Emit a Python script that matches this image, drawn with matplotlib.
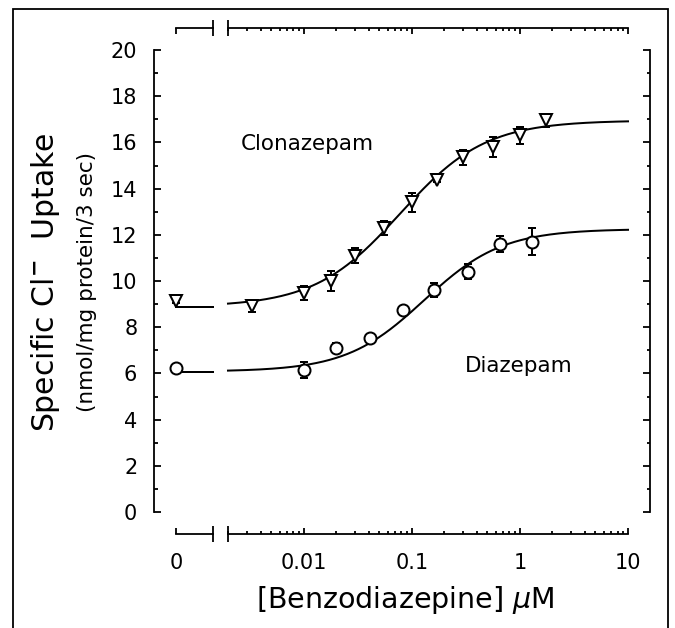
import numpy as np
import matplotlib
matplotlib.use('Agg')
import matplotlib.pyplot as plt
from matplotlib.patches import Rectangle
from matplotlib.ticker import LogLocator, NullFormatter, MultipleLocator, FixedLocator, FixedFormatter

# ---------------- data ----------------
clon_conc = [0.0033, 0.01, 0.018, 0.030, 0.055, 0.10, 0.17, 0.30, 0.56, 1.0, 1.76]
clon_uptake = [8.9, 9.48, 10.0, 11.1, 12.3, 13.4, 14.37, 15.35, 15.8, 16.3, 16.95]
clon_err = [0.25, 0.3, 0.43, 0.32, 0.29, 0.43, 0.1, 0.32, 0.42, 0.38, 0.3]
clon_zero = [9.15]
clon_zero_err = [0.1]
diaz_conc = [0.01, 0.020, 0.041, 0.083, 0.16, 0.33, 0.65, 1.29]
diaz_uptake = [6.15, 7.1, 7.53, 8.74, 9.61, 10.4, 11.6, 11.7]
diaz_err = [0.36, 0.2, 0.1, 0.1, 0.3, 0.32, 0.36, 0.58]
diaz_zero = [6.23]
diaz_zero_err = [0.1]

# fitted logistic curve parameters (bottom, top, EC50, Hill slope)
clon_fit = (8.88, 16.95, 0.078, 1.1)
diaz_fit = (6.08, 12.25, 0.13, 1.2)

x_ticks = [0.01, 0.1, 1, 10]
x_tick_labels = ['0.01', '0.1', '1', '10']
y_ticks = [0, 2, 4, 6, 8, 10, 12, 14, 16, 18, 20]


def hill(x, p):
    b, t, ec, n = p
    return b + (t - b) / (1.0 + (ec / x) ** n)


W, H = 675, 628
DPI = 100
fig = plt.figure(figsize=(W / DPI, H / DPI), dpi=DPI)
plt.rcParams['font.family'] = ['DejaVu Sans']

px2pt = 72.0 / DPI
off = 22 * px2pt  # spine offset in points

# axes geometry in pixels
ytop, ybot = 50, 512
main_l, main_r = 228, 628
zero_l, zero_r = 176, 213

ax = fig.add_axes([main_l / W, 1 - ybot / H, (main_r - main_l) / W, (ybot - ytop) / H])
ax0 = fig.add_axes([zero_l / W, 1 - ybot / H, (zero_r - zero_l) / W, (ybot - ytop) / H])

lw = 1.8 * px2pt
clw = 2.0 * px2pt
tfs = 15

# ----- main log axes -----
ax.set_xscale('log')
ax.set_xlim(0.002, 10)
ax.set_ylim(0, 20)
ax.patch.set_visible(False)
ax.spines['left'].set_visible(False)
for s in ['bottom', 'top', 'right']:
    ax.spines[s].set_position(('outward', off))
    ax.spines[s].set_linewidth(lw)
ax.xaxis.set_major_locator(FixedLocator(x_ticks))
ax.xaxis.set_major_formatter(FixedFormatter(x_tick_labels))
ax.xaxis.set_minor_locator(LogLocator(base=10, subs=np.arange(2, 10)))
ax.xaxis.set_minor_formatter(NullFormatter())
ax.tick_params(axis='x', which='both', direction='in', top=True, bottom=True,
               labelsize=tfs, pad=14, width=lw)
ax.tick_params(axis='x', which='major', length=6 * px2pt)
ax.tick_params(axis='x', which='minor', length=3 * px2pt)
ax.yaxis.set_major_locator(FixedLocator(y_ticks))
ax.yaxis.set_minor_locator(MultipleLocator(1))
ax.tick_params(axis='y', which='both', direction='in', left=False, right=True,
               labelleft=False, labelright=False, width=lw)
ax.tick_params(axis='y', which='major', length=7 * px2pt)
ax.tick_params(axis='y', which='minor', length=3.5 * px2pt)

# ----- zero axes -----
ax0.set_xlim(0, 1)
ax0.set_ylim(0, 20)
ax0.patch.set_visible(False)
ax0.spines['right'].set_visible(False)
for s in ['bottom', 'top', 'left']:
    ax0.spines[s].set_position(('outward', off))
    ax0.spines[s].set_linewidth(lw)
ax0.set_xticks([0])
ax0.set_xticklabels(['0'])
ax0.tick_params(axis='x', which='both', direction='in', top=True, bottom=True,
                labelsize=tfs, pad=14, width=lw, length=6 * px2pt)
ax0.yaxis.set_major_locator(FixedLocator(y_ticks))
ax0.yaxis.set_minor_locator(MultipleLocator(1))
ax0.tick_params(axis='y', which='both', direction='in', left=True, right=False,
                labelsize=tfs, pad=12, width=lw)
ax0.tick_params(axis='y', which='major', length=7 * px2pt)
ax0.tick_params(axis='y', which='minor', length=3.5 * px2pt)

# break marks
hpx = ybot - ytop
for a, xa in [(ax0, 1.0), (ax, 0.0)]:
    a.plot([xa, xa], [-30 / hpx, -14 / hpx], transform=a.transAxes, color='black',
           lw=lw, clip_on=False, solid_capstyle='butt')
    a.plot([xa, xa], [1 + 14 / hpx, 1 + 30 / hpx], transform=a.transAxes, color='black',
           lw=lw, clip_on=False, solid_capstyle='butt')

# ----- curves -----
xs = np.logspace(np.log10(0.002), 1, 400)
ax.plot(xs, hill(xs, clon_fit), color='black', lw=clw, clip_on=False)
ax.plot(xs, hill(xs, diaz_fit), color='black', lw=clw, clip_on=False)
ax0.plot([0, 1], [clon_fit[0]] * 2, color='black', lw=clw, clip_on=False)
ax0.plot([0, 1], [diaz_fit[0]] * 2, color='black', lw=clw, clip_on=False)

mk = dict(mfc='white', mec='black', mew=2.0 * px2pt, ms=12 * px2pt, ecolor='black',
          elinewidth=clw, capsize=4 * px2pt, capthick=clw, ls='none', clip_on=False, zorder=3)
ax.errorbar(clon_conc, clon_uptake, yerr=clon_err, marker='v', **mk)
ax.errorbar(diaz_conc, diaz_uptake, yerr=diaz_err, marker='o', **mk)
ax0.errorbar([0], clon_zero, yerr=clon_zero_err, marker='v', **mk)
ax0.errorbar([0], diaz_zero, yerr=diaz_zero_err, marker='o', **mk)

# ----- annotations -----
ax.text(0.00262, 15.95, 'Clonazepam', fontsize=15.5, ha='left', va='center')
ax.text(0.313, 6.3, 'Diazepam', fontsize=15.5, ha='left', va='center')

fig.text(46 / W, 1 - 282 / H, 'Specific Cl$^{\\mathbf{-}}$  Uptake', rotation=90,
         fontsize=21.5, ha='center', va='center')
fig.text(87 / W, 1 - 282 / H, '(nmol/mg protein/3 sec)', rotation=90,
         fontsize=15.5, ha='center', va='center')
fig.text(405 / W, 1 - 600 / H, '[Benzodiazepine] $\\mu$M', fontsize=20.5,
         ha='center', va='center')

# frame around the figure
fig.add_artist(Rectangle((13 / W, -0.05), (668 - 13) / W, 1.05 - 9 / H,
                         transform=fig.transFigure, fill=False, ec='black', lw=lw))

fig.savefig('out.png', dpi=DPI)
